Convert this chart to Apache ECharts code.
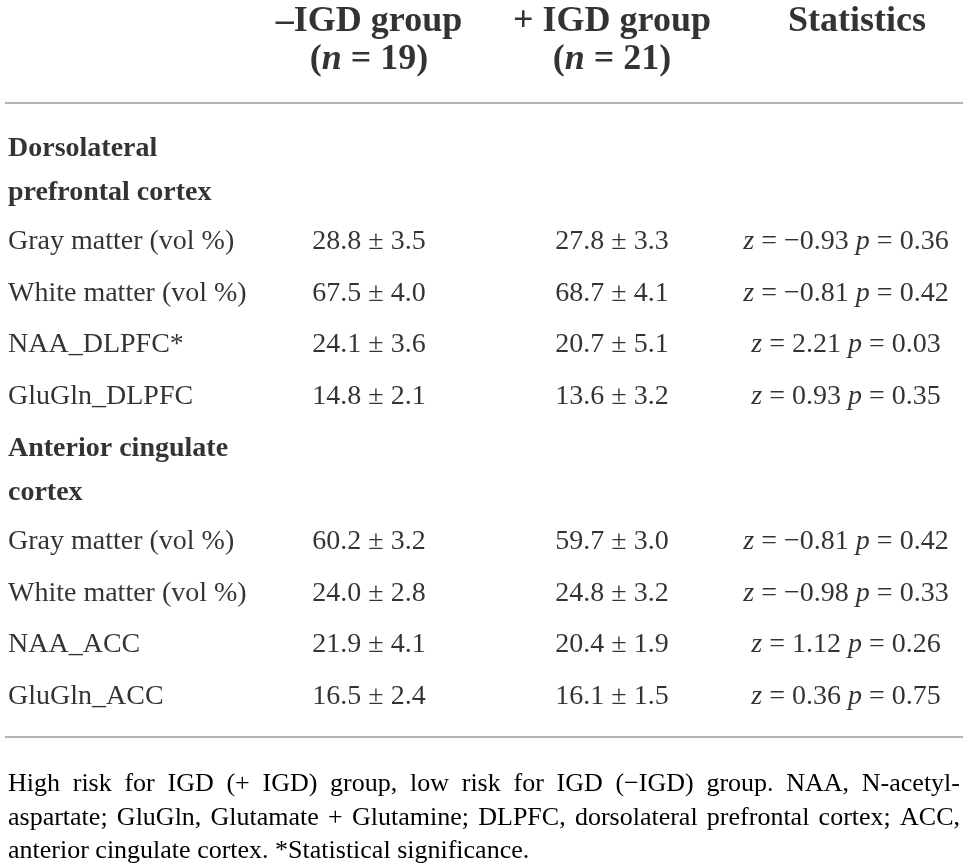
<!DOCTYPE html>
<html>
<head>
<meta charset="utf-8">
<script src="https://cdn.jsdelivr.net/npm/echarts@6/dist/echarts.min.js"></script>
<style>
  html, body { margin: 0; padding: 0; background: #fff; }
  #main { width: 968px; height: 865px; }
</style>
</head>
<body>
<div id="main"></div>
<script>
// column headers
var groupHeads = ['–IGD group', '+ IGD group', 'Statistics'];
var groupN = [19, 21];
// section titles (two lines each)
var sectionTitles = [['Dorsolateral', 'prefrontal cortex'], ['Anterior cingulate', 'cortex']];
// rows
var rowSection = [0, 0, 0, 0, 1, 1, 1, 1];
var rowLabels = ['Gray matter (vol %)', 'White matter (vol %)', 'NAA_DLPFC*', 'GluGln_DLPFC',
                 'Gray matter (vol %)', 'White matter (vol %)', 'NAA_ACC', 'GluGln_ACC'];
var lowMean = [28.8, 67.5, 24.1, 14.8, 60.2, 24.0, 21.9, 16.5];
var lowSd = [3.5, 4.0, 3.6, 2.1, 3.2, 2.8, 4.1, 2.4];
var highMean = [27.8, 68.7, 20.7, 13.6, 59.7, 24.8, 20.4, 16.1];
var highSd = [3.3, 4.1, 5.1, 3.2, 3.0, 3.2, 1.9, 1.5];
var zStat = [-0.93, -0.81, 2.21, 0.93, -0.81, -0.98, 1.12, 0.36];
var pVal = [0.36, 0.42, 0.03, 0.35, 0.42, 0.33, 0.26, 0.75];
// footnote lines (first two are justified)
var footLines = [
    'High risk for IGD (+ IGD) group, low risk for IGD (−IGD) group. NAA, N-acetyl-',
    'aspartate; GluGln, Glutamate + Glutamine; DLPFC, dorsolateral prefrontal cortex; ACC,',
    'anterior cingulate cortex. *Statistical significance.'
];

var FONT = '"Liberation Serif", "DejaVu Serif", serif';
var INK = '#000000';
var W = 968, H = 865;
var colX = [369, 612, 846];       // data column centres
var headX = [369, 612, 857];      // header centres
var labelX = 8;
var sectionY = [149, 449];
var rowPitch = 51.5;

function fmt(v, d) {
    return v.toFixed(d).replace('-', '−');
}

var leftData = [];
var centerData = [];

// header
groupHeads.forEach(function(h, i) {
    centerData.push({ value: [headX[i], 22], text: h, bold: true });
});
groupN.forEach(function(n, i) {
    centerData.push({ value: [headX[i], 60], text: '({bi|n} = ' + n + ')', bold: true });
});

// sections
sectionTitles.forEach(function(lines, s) {
    lines.forEach(function(t, k) {
        leftData.push({ value: [labelX, sectionY[s] + k * 44], text: t, bold: true });
    });
});

// rows
var rowCount = [0, 0];
rowLabels.forEach(function(lab, i) {
    var s = rowSection[i];
    var y = sectionY[s] + 93 + rowCount[s] * rowPitch;
    rowCount[s]++;
    leftData.push({ value: [labelX, y], text: lab });
    centerData.push({ value: [colX[0], y], text: fmt(lowMean[i], 1) + ' ± ' + fmt(lowSd[i], 1) });
    centerData.push({ value: [colX[1], y], text: fmt(highMean[i], 1) + ' ± ' + fmt(highSd[i], 1) });
    centerData.push({ value: [colX[2], y], text: '{i|z} = ' + fmt(zStat[i], 2) + ' {i|p} = ' + fmt(pVal[i], 2) });
});

function styleItems(list) {
    return list.map(function(d) {
        return {
            value: d.value,
            text: d.text,
            label: {
                fontWeight: d.bold ? 'bold' : 'normal',
                fontSize: d.bold && d.value[1] < 100 ? 36 : 28
            }
        };
    });
}

var rich = {
    i: { fontStyle: 'italic', fontSize: 28, fontFamily: FONT, color: INK },
    bi: { fontStyle: 'italic', fontWeight: 'bold', fontSize: 36, fontFamily: FONT, color: INK }
};

function textSeries(data, align) {
    return {
        type: 'scatter',
        data: styleItems(data),
        symbolSize: 1,
        itemStyle: { color: 'rgba(0,0,0,0)' },
        silent: true,
        label: {
            show: true,
            position: 'inside',
            align: align,
            verticalAlign: 'middle',
            fontFamily: FONT,
            color: INK,
            formatter: function(p) { return p.data.text; },
            rich: rich
        },
        emphasis: { disabled: true }
    };
}

// justified footnote words
var ctx = document.createElement('canvas').getContext('2d');
var footFont = '26px ' + FONT;
ctx.font = footFont;
var footLeft = 8, footRight = 960;
var footY = [784, 818, 851];
var graphics = [];
footLines.forEach(function(line, li) {
    var words = line.split(' ');
    var widths = words.map(function(w) { return ctx.measureText(w).width; });
    var total = widths.reduce(function(a, b) { return a + b; }, 0);
    var gap = li < footLines.length - 1 ? (footRight - footLeft - total) / (words.length - 1) : ctx.measureText(' ').width;
    var x = footLeft;
    words.forEach(function(w, k) {
        graphics.push({
            type: 'text', x: x, y: footY[li], silent: true,
            style: { text: w, font: footFont, fill: INK, verticalAlign: 'middle', align: 'left' }
        });
        x += widths[k] + gap;
    });
});
// rules
[103, 737].forEach(function(y) {
    graphics.push({
        type: 'line', silent: true,
        shape: { x1: 5, y1: y, x2: 963, y2: y },
        style: { stroke: '#b4b4b4', lineWidth: 2 }
    });
});

var chart = echarts.init(document.getElementById('main'), null, { renderer: 'canvas' });
chart.setOption({
    animation: false,
    backgroundColor: '#ffffff',
    grid: { left: 0, right: 0, top: 0, bottom: 0 },
    xAxis: { type: 'value', min: 0, max: W, show: false },
    yAxis: { type: 'value', min: 0, max: H, inverse: true, show: false },
    series: [textSeries(leftData, 'left'), textSeries(centerData, 'center')],
    graphic: graphics
});
</script>
</body>
</html>
